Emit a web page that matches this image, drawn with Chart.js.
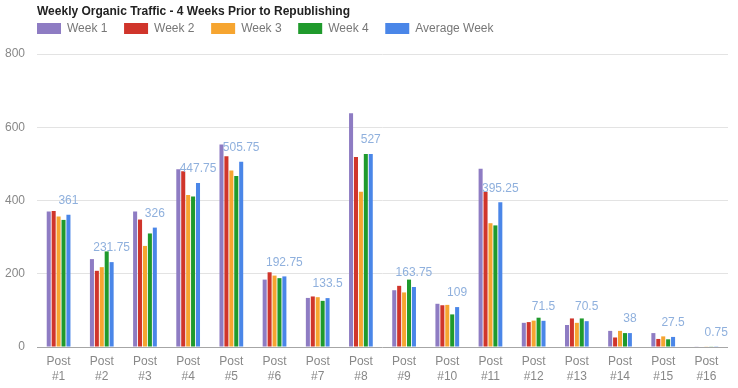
<!DOCTYPE html>
<html lang="en">
<head>
    <meta charset="UTF-8">
    <title>Weekly Organic Traffic</title>
    <script src="https://cdn.jsdelivr.net/npm/chart.js"></script>
    <style>
        * { margin: 0; padding: 0; box-sizing: border-box; }
        body { background: #fff; }
        .chart-wrap { width: 738px; height: 388px; position: relative; }
    </style>
</head>
<body>
    <div class="chart-wrap">
        <canvas id="trafficChart"></canvas>
    </div>

    <script>
        const categories = [
            ['Post', '#1'], ['Post', '#2'], ['Post', '#3'], ['Post', '#4'],
            ['Post', '#5'], ['Post', '#6'], ['Post', '#7'], ['Post', '#8'],
            ['Post', '#9'], ['Post', '#10'], ['Post', '#11'], ['Post', '#12'],
            ['Post', '#13'], ['Post', '#14'], ['Post', '#15'], ['Post', '#16']
        ];
        const week1 = [370, 240, 370, 485, 553, 184, 134, 638, 155, 118, 487, 66, 60, 44, 38, 1];
        const week2 = [371, 208, 348, 480, 521, 204, 138, 519, 167, 114, 424, 68, 78, 26, 22, 0];
        const week3 = [356, 218, 276, 415, 482, 195, 136, 424, 149, 115, 338, 72, 66, 44, 29, 1];
        const week4 = [347, 261, 310, 411, 467, 188, 126, 527, 184, 89, 332, 80, 78, 38, 21, 1];
        const averageWeek = [361, 231.75, 326, 447.75, 505.75, 192.75, 133.5, 527, 163.75, 109, 395.25, 71.5, 70.5, 38, 27.5, 0.75];
        const yTicks = [0, 200, 400, 600, 800];

        const FONT = "'Liberation Sans', Arial, sans-serif";

        // legend sits a bit right of the canvas edge, with a gap under it
        const legendPlacement = {
            id: 'legendPlacement',
            afterInit(chart) {
                const fit = chart.legend.fit;
                chart.legend.fit = function () {
                    fit.call(this);
                    this.height += 9.5;
                };
            },
            afterLayout(chart) {
                chart.legend.left = 20.4;
            }
        };

        // value labels over the average bars
        const avgLabels = {
            id: 'avgLabels',
            afterDatasetsDraw(chart) {
                const ctx = chart.ctx;
                const meta = chart.getDatasetMeta(4);
                ctx.save();
                ctx.font = '12px ' + FONT;
                ctx.fillStyle = '#8fb0dd';
                ctx.textAlign = 'center';
                ctx.textBaseline = 'middle';
                meta.data.forEach((bar, i) => {
                    ctx.fillText(String(averageWeek[i]), bar.x, bar.y - 14);
                });
                ctx.restore();
            }
        };

        const bar = (label, data, color) => ({
            label: label,
            data: data,
            backgroundColor: color,
            borderWidth: 0,
            categoryPercentage: 0.57,
            barPercentage: 0.82
        });

        new Chart(document.getElementById('trafficChart'), {
            type: 'bar',
            data: {
                labels: categories,
                datasets: [
                    bar('Week 1', week1, '#8e7cc3'),
                    bar('Week 2', week2, '#d0352b'),
                    bar('Week 3', week3, '#f6a530'),
                    bar('Week 4', week4, '#1f9a2c'),
                    bar('Average Week', averageWeek, '#4a86e8')
                ]
            },
            options: {
                responsive: true,
                maintainAspectRatio: false,
                animation: false,
                layout: { padding: { left: 4, right: 10, top: 0, bottom: 4 } },
                plugins: {
                    title: {
                        display: true,
                        text: 'Weekly Organic Traffic - 4 Weeks Prior to Republishing',
                        align: 'start',
                        fullSize: false,
                        color: '#222',
                        font: { family: FONT, size: 12, weight: 'bold' },
                        padding: { top: 4, bottom: -12.5 }
                    },
                    legend: {
                        position: 'top',
                        align: 'start',
                        labels: {
                            boxWidth: 24,
                            boxHeight: 11,
                            padding: 16.6,
                            color: '#777',
                            font: { family: FONT, size: 12 }
                        }
                    },
                    tooltip: { enabled: false }
                },
                scales: {
                    x: {
                        afterFit(scale) { scale.height = 37; },
                        grid: { display: false, drawTicks: false },
                        border: { display: false },
                        ticks: {
                            color: '#888',
                            font: { family: FONT, size: 12, lineHeight: 1.25 },
                            padding: 7,
                            maxRotation: 0,
                            autoSkip: false
                        }
                    },
                    y: {
                        min: 0,
                        max: 800,
                        afterFit(scale) { scale.width = 33; },
                        afterBuildTicks(scale) {
                            scale.ticks = yTicks.map(v => ({ value: v }));
                        },
                        border: { display: false },
                        grid: {
                            drawTicks: false,
                            color: ctx => ctx.tick && ctx.tick.value === 0 ? '#a6a6a6' : '#e3e3e3'
                        },
                        ticks: {
                            color: '#888',
                            font: { family: FONT, size: 12 },
                            padding: 12
                        }
                    }
                }
            },
            plugins: [legendPlacement, avgLabels]
        });
    </script>
</body>
</html>
